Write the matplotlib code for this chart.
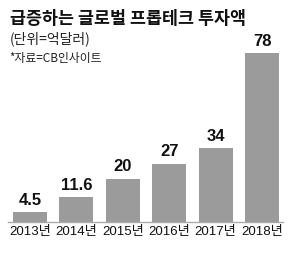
import numpy as np
import matplotlib.pyplot as plt
from matplotlib import font_manager

years = ['2013년', '2014년', '2015년', '2016년', '2017년', '2018년']
values = [4.5, 11.6, 20, 27, 34, 78]
value_labels = ['4.5', '11.6', '20', '27', '34', '78']

names = {f.name for f in font_manager.fontManager.ttflist}
narrow = 'Liberation Sans Narrow' if 'Liberation Sans Narrow' in names else 'Liberation Sans'
cjk = 'Noto Sans CJK KR'

plt.rcParams['font.family'] = [narrow, cjk]

fig = plt.figure(figsize=(3.0, 2.54), dpi=100)
ax = fig.add_axes([0.027, 0.126, 0.916, 0.725])

x = np.arange(len(years))
ax.bar(x, values, width=0.73, color='#9b9b9b', zorder=2)
ax.set_xlim(-0.47, 5.45)
ax.set_ylim(0, 85)

for xi, v, lab in zip(x, values, value_labels):
    ax.annotate(lab, (xi, v), xytext=(0, 3), textcoords='offset points',
                ha='center', va='bottom', fontsize=12, fontweight='bold',
                family=[narrow, cjk], color='#111111')

ax.set_xticks(x)
ax.set_xticklabels(years, fontsize=9.5, family=[narrow, cjk], color='#111111')
ax.tick_params(axis='x', length=0, pad=3)
ax.set_yticks([])
for s in ['top', 'right', 'left']:
    ax.spines[s].set_visible(False)
ax.spines['bottom'].set_color('#aaaaaa')
ax.spines['bottom'].set_linewidth(1.0)

fig.text(0.033, 0.962, '급증하는 글로벌 프롭테크 투자액', fontsize=12.5, fontweight='bold',
         family=[cjk], ha='left', va='top', color='#111111')
fig.text(0.033, 0.875, '(단위=억달러)', fontsize=10, family=[cjk, 'DejaVu Sans'],
         ha='left', va='top', color='#222222')
fig.text(0.03, 0.797, '*자료=CB인사이트', fontsize=8.5, family=[cjk, 'DejaVu Sans'],
         ha='left', va='top', color='#222222')

fig.savefig('out.png', dpi=100)
